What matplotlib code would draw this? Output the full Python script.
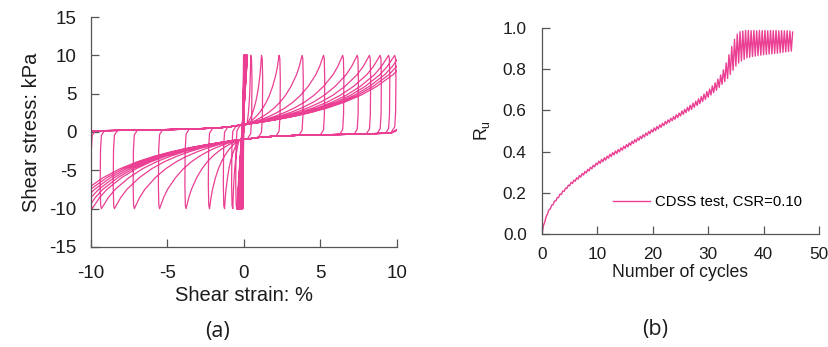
import numpy as np
import matplotlib
matplotlib.use("Agg")
import matplotlib.pyplot as plt

plt.rcParams["font.family"] = ["Liberation Sans", "DejaVu Sans"]
plt.rcParams["axes.unicode_minus"] = False
plt.rcParams["mathtext.fontset"] = "custom"
plt.rcParams["mathtext.rm"] = "Liberation Sans"

PINK = "#EA3F93"
AXIS_GREY = "#555555"
TEXT = "#1c1c1c"

# ---- (a) stress-strain loops ----
TAU_MAX = 10.0

# first cycles, small strain, almost linear
EARLY_POS = [0.0, 0.02, 0.04, 0.06, 0.08, 0.10, 0.12, 0.14, 0.16, 0.18, 0.20, 0.22]
EARLY_NEG = [-0.08, -0.12, -0.16, -0.20, -0.24, -0.27, -0.30, -0.33, -0.36, -0.39, -0.42, -0.45]

# strain at the stress reversals once the loops open up
NEG_TROUGHS = [-0.45, -0.72, -1.26, -2.24, -3.77, -5.5, -7.15, -8.45, -9.3, -9.9,
               -10.2, -10.5, -10.8, -11.1, -11.4]
POS_PEAKS = [0.45, 1.15, 2.3, 3.8, 5.2, 6.45, 7.4, 8.2, 8.9, 9.45, 9.85,
             10.2, 10.5, 10.8]

# near-zero stress traverse (upper-left going right, lower-right going left)
FLAT_UP_X = [-13.0, -10.0, -7.0, -4.0, -2.0, -1.0, -0.4, 0.2]
FLAT_UP_Y = [0.1, 0.15, 0.25, 0.35, 0.5, 0.65, 0.85, 1.0]
FLAT_DN_X = [13.0, 10.5, 9.6, 7.0, 4.0, 2.0, 1.0, 0.3, -0.3]
FLAT_DN_Y = [0.8, 0.6, -0.15, -0.3, -0.4, -0.55, -0.7, -0.9, -1.0]

# loading branch shape: fraction of strain span vs fraction of stress rise
BRANCH_T = [0.0, 0.1, 0.2, 0.3, 0.4, 0.5, 0.6, 0.7, 0.8, 0.9, 0.95, 1.0]
BRANCH_F = [0.0, 0.035, 0.075, 0.12, 0.175, 0.24, 0.32, 0.42, 0.55, 0.72, 0.84, 1.0]

# unloading right after a reversal
DROP_DX = [0.0, 0.05, 0.08, 0.06, 0.0, -0.2]
DROP_FRAC = [1.0, 0.96, 0.7, 0.25, 0.06, 0.0]

# ---- (b) pore pressure ratio, one trough / peak per half cycle ----
RU_TROUGH = [0.000, 0.058, 0.098, 0.122, 0.142, 0.160, 0.177, 0.192, 0.207, 0.221,
             0.234, 0.245, 0.256, 0.266, 0.276, 0.286, 0.296, 0.306, 0.316, 0.326,
             0.336, 0.343, 0.351, 0.359, 0.368, 0.376, 0.384, 0.391, 0.399, 0.407,
             0.415, 0.423, 0.431, 0.439, 0.447, 0.455, 0.463, 0.471, 0.479, 0.487,
             0.495, 0.502, 0.510, 0.518, 0.526, 0.534, 0.542, 0.550, 0.557, 0.565,
             0.573, 0.581, 0.589, 0.597, 0.605, 0.615, 0.624, 0.633, 0.643, 0.653,
             0.664, 0.675, 0.686, 0.698, 0.712, 0.727, 0.740, 0.755, 0.775, 0.795,
             0.815, 0.830, 0.840, 0.848, 0.855, 0.858, 0.862, 0.864, 0.866, 0.868,
             0.870, 0.872, 0.874, 0.875, 0.877, 0.878, 0.880, 0.882, 0.884, 0.886,
             0.888]
RU_PEAK = [0.040, 0.085, 0.118, 0.140, 0.160, 0.177, 0.194, 0.209, 0.223, 0.237,
           0.251, 0.262, 0.273, 0.284, 0.294, 0.304, 0.314, 0.324, 0.334, 0.344,
           0.354, 0.362, 0.370, 0.378, 0.387, 0.395, 0.403, 0.410, 0.418, 0.426,
           0.434, 0.442, 0.450, 0.458, 0.466, 0.474, 0.482, 0.490, 0.498, 0.506,
           0.515, 0.522, 0.530, 0.538, 0.546, 0.554, 0.562, 0.570, 0.579, 0.587,
           0.597, 0.605, 0.615, 0.625, 0.635, 0.645, 0.656, 0.667, 0.679, 0.691,
           0.704, 0.719, 0.734, 0.752, 0.772, 0.797, 0.830, 0.870, 0.910, 0.945,
           0.970, 0.982, 0.985, 0.988, 0.988, 0.987, 0.988, 0.986, 0.988, 0.987,
           0.988, 0.986, 0.988, 0.987, 0.988, 0.986, 0.987, 0.986, 0.987, 0.985,
           0.980]


def half_cycle(g_from, g_to):
    """Path from one stress reversal to the next one."""
    xs, ys = [], []
    up = g_to > g_from
    sgn = 1.0 if up else -1.0
    fx, fy = (FLAT_UP_X, FLAT_UP_Y) if up else (FLAT_DN_X, FLAT_DN_Y)
    fx_s = np.array(fx) if up else np.array(fx)[::-1]
    fy_s = np.array(fy) if up else np.array(fy)[::-1]
    lvl = float(np.interp(g_from, fx_s, fy_s))
    # reversal: stress goes back towards zero at nearly constant strain
    for dx, fr in zip(DROP_DX, DROP_FRAC):
        xs.append(g_from - sgn * dx)
        ys.append(lvl + (-sgn * TAU_MAX - lvl) * fr)
    # flat stretch through the origin region
    start = xs[-1]
    for x, y in zip(fx, fy):
        if (up and x > start) or (not up and x < start):
            xs.append(x)
            ys.append(y)
    x0, y0 = fx[-1], fy[-1]
    # stiffening branch up to the next reversal
    for t, f in zip(BRANCH_T, BRANCH_F):
        xs.append(x0 + (g_to - x0) * t)
        ys.append(y0 + (sgn * TAU_MAX - y0) * f)
    return xs, ys


ex, ey = [0.0], [0.0]
for p, n in zip(EARLY_POS, EARLY_NEG):
    ex += [p, n]
    ey += [TAU_MAX, -TAU_MAX]

turns = []
for i, n in enumerate(NEG_TROUGHS):
    turns.append(n)
    if i < len(POS_PEAKS):
        turns.append(POS_PEAKS[i])

xs, ys = [EARLY_NEG[-1]], [-TAU_MAX]
prev = EARLY_NEG[-1]
for g in turns[1:]:
    hx, hy = half_cycle(prev, g)
    xs += hx
    ys += hy
    prev = g

fig = plt.figure(figsize=(8.29, 3.47), dpi=100)
ax1 = fig.add_axes([0.1094, 0.2882, 0.3695, 0.6628])
ax2 = fig.add_axes([0.6538, 0.3256, 0.3341, 0.5937])

ax1.plot(ex, ey, color=PINK, lw=1.3)
ax1.plot(xs, ys, color=PINK, lw=0.9)
ax1.set_xlim(-10, 10)
ax1.set_ylim(-15, 15)
ax1.set_xticks([-10, -5, 0, 5, 10])
ax1.set_yticks([-15, -10, -5, 0, 5, 10, 15])
ax1.set_xlabel("Shear strain: %", fontsize=14.5, color=TEXT, labelpad=3)
ax1.set_ylabel("Shear stress: kPa", fontsize=14.5, color=TEXT, labelpad=6)
ax1.tick_params(axis="x", labelsize=13.5, pad=13)
ax1.tick_params(axis="y", labelsize=13.5, pad=10)

n_lo = np.arange(len(RU_TROUGH)) * 0.5
n_hi = n_lo + 0.25
cyc = np.column_stack([n_lo, n_hi]).ravel()
ru = np.column_stack([RU_TROUGH, RU_PEAK]).ravel()
ax2.plot(cyc, ru, color=PINK, lw=1.0, label="CDSS test, CSR=0.10")
ax2.set_xlim(0, 50)
ax2.set_ylim(0, 1.0)
ax2.set_xticks(range(0, 51, 10))
ax2.set_yticks([0.0, 0.2, 0.4, 0.6, 0.8, 1.0])
ax2.set_yticklabels([f"{v:.1f}" for v in [0.0, 0.2, 0.4, 0.6, 0.8, 1.0]])
ax2.set_xlabel("Number of cycles", fontsize=12.7, color=TEXT, labelpad=2)
ax2.set_ylabel("R$_\\mathrm{u}$", fontsize=12.7, color=TEXT, labelpad=8)
ax2.tick_params(axis="x", labelsize=12.4, pad=9)
ax2.tick_params(axis="y", labelsize=12.4, pad=11)
ax2.legend(loc="center left", bbox_to_anchor=(0.256, 0.155), frameon=False,
           fontsize=10.7, handlelength=2.5, handletextpad=0.35,
           borderpad=0, borderaxespad=0)

for ax in (ax1, ax2):
    for side in ("top", "right"):
        ax.spines[side].set_visible(False)
    for side in ("left", "bottom"):
        ax.spines[side].set_color(AXIS_GREY)
        ax.spines[side].set_linewidth(0.9)
    ax.tick_params(direction="in", length=6, width=0.9, color=AXIS_GREY,
                   labelcolor=TEXT)

fig.text(0.262, 0.045, "(a)", fontsize=15.5, family=["Open Sans", "DejaVu Sans"],
         ha="center", va="center", color=TEXT)
fig.text(0.790, 0.050, "(b)", fontsize=15.5, family=["Open Sans", "DejaVu Sans"],
         ha="center", va="center", color=TEXT)

fig.savefig("out.png", dpi=100)
